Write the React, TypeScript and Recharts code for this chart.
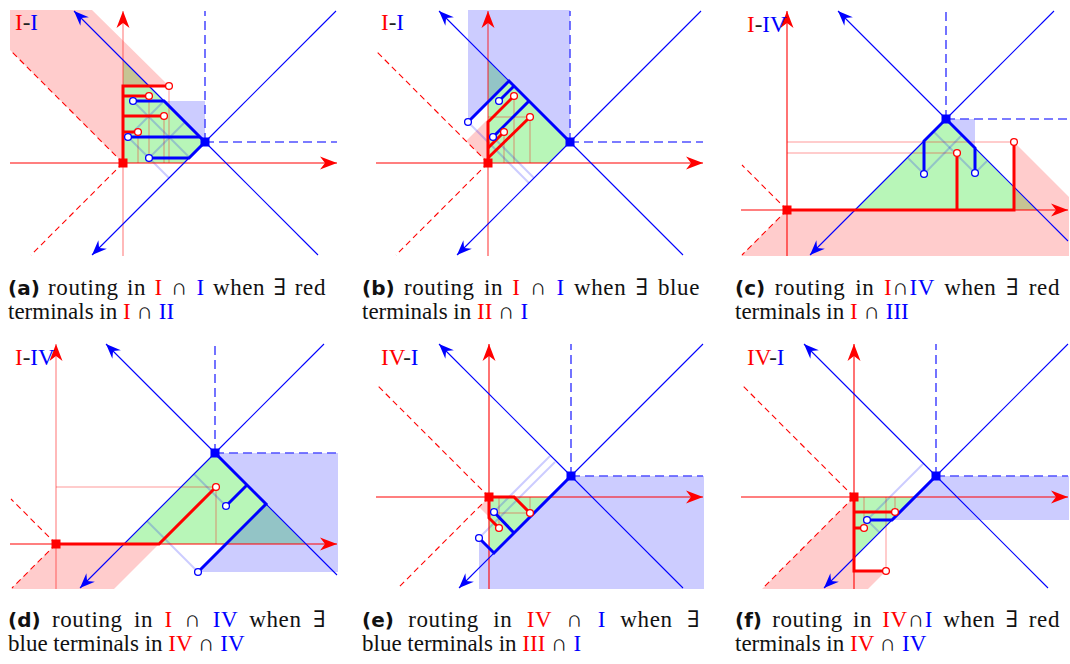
import React from "react";
import { Area, ComposedChart, Line, XAxis, YAxis } from "recharts";

type P = [number, number];

const RED = "#ff0000";
const BLUE = "#0000ff";
const W = 328;
const H = 246;

// (a) I-I, red terminals in I ∩ II
const aSquare: P = [82, 21];
const aGreen: P[] = [[0, 103], [82, 21], [61, 0], [0, 0]];
const aBlueFill: P[] = [[41, 62], [82, 62], [82, 21]];
const aPink: P[] = [[-113, 153], [-31, 153], [46, 77], [0, 77], [0, 0], [-113, 113]];
const aRedTerms: P[] = [[46, 77], [26, 67], [41, 47], [15, 31]];
const aRedRoutes: P[][] = [[[0, 0], [0, 77], [46, 77]], [[0, 67], [26, 67]], [[0, 47], [41, 47]], [[0, 31], [15, 31]]];
const aBlueTerms: P[] = [[10, 62], [5, 26], [26, 5]];
const aBlueRoutes: P[][] = [[[10, 62], [41, 62], [82, 21]], [[5, 26], [77, 26]], [[26, 5], [66, 5], [82, 21]]];
const aFaintRed: P[][] = [[[15, 31], [15, 0]], [[26, 67], [26, 0]], [[41, 47], [41, 0]], [[46, 77], [46, 0]]];
const aFaintBlue: P[][] = [[[5, 26], [46, -15]], [[10, 62], [66, 6]], [[26, 5], [62, 41]], [[5, 26], [41, 62]]];

// (b) I-I, blue terminals in II ∩ I
const bSquare: P = [82, 21];
const bGreen: P[] = [[0, 103], [82, 21], [61, 0], [0, 0]];
const bBlueFill: P[] = [[-20, 153], [82, 153], [82, 21], [21, 82], [-20, 41]];
const bPink: P[] = [[-22, 22], [0, 44], [0, 0]];
const bRedTerms: P[] = [[26, 67], [42, 46], [16, 31]];
const bRedRoutes: P[][] = [[[0, 0], [0, 41], [26, 67]], [[0, 5], [42, 46]], [[0, 15], [16, 31]]];
const bBlueTerms: P[] = [[-20, 41], [11, 62], [5, 26]];
const bBlueRoutes: P[][] = [[[-20, 41], [21, 82], [82, 21]], [[11, 62], [26, 77]], [[5, 26], [41, 62]]];
const bFaintRed: P[][] = [[[16, 31], [16, 0]], [[26, 67], [26, 0]], [[42, 46], [42, 0]], [[0, 46], [42, 46]]];
const bFaintBlue: P[][] = [[[-20, 41], [41, -20]], [[5, 26], [46, -15]]];

// (c) I-IV, red terminals in I ∩ III
const cSquare: P = [159, 91];
const cGreen: P[] = [[68, 0], [159, 91], [250, 0]];
const cBlueFill: P[] = [[159, 91], [188, 91], [188, 62]];
const cPink: P[] = [[0, 0], [227, 0], [227, 68], [282, 13], [282, -46], [-46, -46]];
const cRedTerms: P[] = [[170, 57], [227, 68]];
const cRedRoutes: P[][] = [[[0, 0], [227, 0], [227, 68]], [[170, 0], [170, 57]]];
const cBlueTerms: P[] = [[137, 36], [188, 37]];
const cBlueRoutes: P[][] = [[[137, 36], [137, 69], [159, 91], [188, 62], [188, 37]]];
const cFaintRed: P[][] = [[[0, 68], [227, 68]], [[0, 57], [170, 57]]];
const cFaintBlue: P[][] = [[[137, 36], [175, 75]], [[188, 37], [147, 78]], [[137, 36], [121, 52]], [[188, 37], [200, 49]]];

// (d) I-IV, blue terminals in IV ∩ IV
const dSquare: P = [159, 91];
const dGreen: P[] = [[68, 0], [159, 91], [250, 0]];
const dBlueTop: P[] = [[159, 91], [282, 91], [282, 40], [210, 40]];
const dBlueBottom: P[] = [[210, 40], [282, 40], [282, -28], [142, -28]];
const dPink: P[] = [[0, 0], [103, 0], [58, -45], [-45, -45]];
const dRedTerms: P[] = [[160, 57]];
const dRedRoutes: P[][] = [[[0, 0], [103, 0], [160, 57]]];
const dBlueTerms: P[] = [[170, 38], [142, -28]];
const dBlueRoutes: P[][] = [[[159, 91], [210, 40], [142, -28]], [[191, 59], [170, 38]]];
const dFaintRed: P[][] = [[[0, 57], [160, 57]], [[160, 57], [160, 0]]];
const dFaintBlue: P[][] = [[[170, 38], [138, 70]], [[142, -28], [91, 23]]];

// (e) IV-I, blue terminals in III ∩ I
const eSquare: P = [82, 21];
const eGreen: P[] = [[0, 0], [61, 0], [5, -56], [0, -51]];
const eBlueFill: P[] = [[-10, -41], [5, -56], [82, 21], [215, 21], [215, -92], [-10, -92]];
const ePink: P[] = [[0, 0], [-10, -10], [0, -20]];
const eRedTerms: P[] = [[41, -16], [10, -31]];
const eRedRoutes: P[][] = [[[0, 0], [25, 0], [41, -16]], [[0, 0], [0, -21], [10, -31]]];
const eBlueTerms: P[] = [[5, -15], [-10, -41]];
const eBlueRoutes: P[][] = [[[-10, -41], [5, -56], [82, 21]], [[5, -15], [25, -36]]];
const eFaintRed: P[][] = [[[10, -31], [10, 0]], [[41, -16], [41, 0]], [[0, -16], [41, -16]]];
const eFaintBlue: P[][] = [[[5, -15], [61, 41]], [[-10, -41], [66, 35]]];

// (f) IV-I, red terminals in IV ∩ IV
const fSquare: P = [82, 21];
const fGreen: P[] = [[0, 0], [61, 0], [0, -61]];
const fBlueFill: P[] = [[82, 21], [215, 21], [215, -23], [38, -23]];
const fPink: P[] = [[0, 0], [0, -74], [32, -74], [14, -92], [-92, -92]];
const fRedTerms: P[] = [[41, -15], [10, -31], [32, -74]];
const fRedRoutes: P[][] = [[[0, 0], [0, -74], [32, -74]], [[0, -15], [41, -15]], [[0, -31], [10, -31]]];
const fBlueTerms: P[] = [[13, -23]];
const fBlueRoutes: P[][] = [[[13, -23], [38, -23], [82, 21]]];
const fFaintRed: P[][] = [[[10, -31], [10, 0]], [[32, -74], [32, 0]], [[41, -15], [41, 0]]];
const fFaintBlue: P[][] = [[[13, -23], [70, 34]], [[13, -23], [26, -36]]];

type Seg = [string, string];
const aLabel: Seg[] = [["I", RED], ["-", "#222"], ["I", BLUE]];
const cLabel: Seg[] = [["I", RED], ["-", "#222"], ["IV", BLUE]];
const eLabel: Seg[] = [["IV", RED], ["-", "#222"], ["I", BLUE]];

const captionTags = ["(a)", "(b)", "(c)", "(d)", "(e)", "(f)"];
const captionFirst: Seg[][] = [
  [["routing in ", ""], ["I", RED], [" ∩ ", ""], ["I", BLUE], [" when ∃ red", ""]],
  [["routing in ", ""], ["I", RED], [" ∩ ", ""], ["I", BLUE], [" when ∃ blue", ""]],
  [["routing in ", ""], ["I", RED], ["∩", ""], ["IV", BLUE], [" when ∃ red", ""]],
  [["routing in ", ""], ["I", RED], [" ∩ ", ""], ["IV", BLUE], [" when ∃", ""]],
  [["routing in ", ""], ["IV", RED], [" ∩ ", ""], ["I", BLUE], [" when ∃", ""]],
  [["routing in ", ""], ["IV", RED], ["∩", ""], ["I", BLUE], [" when ∃ red", ""]],
];
const captionSecond: Seg[][] = [
  [["terminals in ", ""], ["I", RED], [" ∩ ", ""], ["II", BLUE]],
  [["terminals in ", ""], ["II", RED], [" ∩ ", ""], ["I", BLUE]],
  [["terminals in ", ""], ["I", RED], [" ∩ ", ""], ["III", BLUE]],
  [["blue terminals in ", ""], ["IV", RED], [" ∩ ", ""], ["IV", BLUE]],
  [["blue terminals in ", ""], ["III", RED], [" ∩ ", ""], ["I", BLUE]],
  [["terminals in ", ""], ["IV", RED], [" ∩ ", ""], ["IV", BLUE]],
];

type Panel = {
  left: number; top: number; ox: number; oy: number; square: P; axisFade: number;
  green: P[][]; blueFill: P[][]; pink: P[][];
  redRoutes: P[][]; blueRoutes: P[][]; redTerms: P[]; blueTerms: P[];
  faintRed: P[][]; faintBlue: P[][];
  label: Seg[]; labelX: number; labelY: number;
};

const PANELS: Panel[] = [
  { left: 10, top: 10, ox: 113, oy: 153, square: aSquare, axisFade: 0.5, green: [aGreen], blueFill: [aBlueFill], pink: [aPink], redRoutes: aRedRoutes, blueRoutes: aBlueRoutes, redTerms: aRedTerms, blueTerms: aBlueTerms, faintRed: aFaintRed, faintBlue: aFaintBlue, label: aLabel, labelX: 15, labelY: 30 },
  { left: 376, top: 10, ox: 112, oy: 153, square: bSquare, axisFade: 0.75, green: [bGreen], blueFill: [bBlueFill], pink: [bPink], redRoutes: bRedRoutes, blueRoutes: bBlueRoutes, redTerms: bRedTerms, blueTerms: bBlueTerms, faintRed: bFaintRed, faintBlue: bFaintBlue, label: aLabel, labelX: 381, labelY: 30 },
  { left: 741, top: 10, ox: 46, oy: 200, square: cSquare, axisFade: 1, green: [cGreen], blueFill: [cBlueFill], pink: [cPink], redRoutes: cRedRoutes, blueRoutes: cBlueRoutes, redTerms: cRedTerms, blueTerms: cBlueTerms, faintRed: cFaintRed, faintBlue: cFaintBlue, label: cLabel, labelX: 747, labelY: 32 },
  { left: 10, top: 343, ox: 46, oy: 201, square: dSquare, axisFade: 0.5, green: [dGreen], blueFill: [dBlueTop, dBlueBottom], pink: [dPink], redRoutes: dRedRoutes, blueRoutes: dBlueRoutes, redTerms: dRedTerms, blueTerms: dBlueTerms, faintRed: dFaintRed, faintBlue: dFaintBlue, label: cLabel, labelX: 15, labelY: 365 },
  { left: 376, top: 343, ox: 113, oy: 154, square: eSquare, axisFade: 1, green: [eGreen], blueFill: [eBlueFill], pink: [ePink], redRoutes: eRedRoutes, blueRoutes: eBlueRoutes, redTerms: eRedTerms, blueTerms: eBlueTerms, faintRed: eFaintRed, faintBlue: eFaintBlue, label: eLabel, labelX: 381, labelY: 365 },
  { left: 741, top: 343, ox: 113, oy: 154, square: fSquare, axisFade: 1, green: [fGreen], blueFill: [fBlueFill], pink: [fPink], redRoutes: fRedRoutes, blueRoutes: fBlueRoutes, redTerms: fRedTerms, blueTerms: fBlueTerms, faintRed: fFaintRed, faintBlue: fFaintBlue, label: eLabel, labelX: 747, labelY: 365 },
];

const CAPTION_COLS = [
  { left: 8, width: 318 },
  { left: 362, width: 338 },
  { left: 735, width: 325 },
];
const CAPTION_ROWS = [295, 627];

// polygon -> rows of [low, high] so Area can fill it as a range area
function toRange(poly: P[]) {
  const xs = Array.from(new Set(poly.map((p) => p[0]))).sort((a, b) => a - b);
  const span = (x: number): [number, number] => {
    const ys: number[] = [];
    for (let i = 0; i < poly.length; i++) {
      const [x1, y1] = poly[i];
      const [x2, y2] = poly[(i + 1) % poly.length];
      if (x1 === x2) continue;
      if (x >= Math.min(x1, x2) && x <= Math.max(x1, x2)) ys.push(y1 + ((y2 - y1) * (x - x1)) / (x2 - x1));
    }
    return [Math.min(...ys), Math.max(...ys)];
  };
  const rows: { x: number; r: [number, number] }[] = [];
  const e = 1e-6;
  xs.forEach((x, i) => {
    if (i > 0) rows.push({ x, r: span(x - e) });
    if (i < xs.length - 1) rows.push({ x, r: span(x + e) });
  });
  return rows;
}

const toRows = (pts: P[]) => pts.map(([x, y]) => ({ x, y }));

// stealth arrow head on the last point, nothing elsewhere
function endDot(pts: P[], color: string, arrow: boolean) {
  return (props: any) => {
    const { cx, cy, index } = props;
    if (!arrow || index !== pts.length - 1 || cx == null) return <g key={`n${index}`} />;
    const [x0, y0] = pts[pts.length - 2];
    const [x1, y1] = pts[pts.length - 1];
    let dx = x1 - x0;
    let dy = -(y1 - y0);
    const len = Math.hypot(dx, dy);
    dx /= len;
    dy /= len;
    const L = color === RED ? 17 : 15;
    const hw = color === RED ? 6.5 : 6;
    const notch = 5;
    const bx = cx - dx * L, by = cy - dy * L;
    const nx = cx - dx * (L - notch), ny = cy - dy * (L - notch);
    const head = [
      [cx, cy],
      [bx - dy * hw, by + dx * hw],
      [nx, ny],
      [bx + dy * hw, by - dx * hw],
    ];
    return <polygon key={`a${index}`} points={head.map((q) => q.join(",")).join(" ")} fill={color} />;
  };
}

function circleDot(color: string) {
  return (props: any) => (
    <circle key={`c${props.index}`} cx={props.cx} cy={props.cy} r={3.4} fill="#fff" stroke={color} strokeWidth={1.3} />
  );
}

function squareDot(props: any) {
  const c = props.index === 0 ? RED : BLUE;
  return <rect key={`s${props.index}`} x={props.cx - 4.5} y={props.cy - 4.5} width={9} height={9} fill={c} />;
}

function fill(poly: P[], key: string, color: string, opacity: number) {
  return (
    <Area key={key} data={toRange(poly)} dataKey="r" type="linear" stroke="none" fill={color} fillOpacity={opacity} dot={false} activeDot={false} isAnimationActive={false} />
  );
}

function seg(pts: P[], key: string, color: string, width: number, opts: { dash?: string; opacity?: number; arrow?: boolean } = {}) {
  return (
    <Line
      key={key}
      data={toRows(pts)}
      dataKey="y"
      type="linear"
      stroke={color}
      strokeWidth={width}
      strokeOpacity={opts.opacity ?? 1}
      strokeDasharray={opts.dash}
      dot={endDot(pts, color, !!opts.arrow)}
      activeDot={false}
      isAnimationActive={false}
    />
  );
}

function Diagram({ p }: { p: Panel }) {
  const xMin = -p.ox, xMax = W - p.ox, yMin = p.oy - H, yMax = p.oy;
  const toEdge = (from: P, d: P): P[] => {
    let t = Infinity;
    if (d[0] > 0) t = Math.min(t, (xMax - 1 - from[0]) / d[0]);
    if (d[0] < 0) t = Math.min(t, (xMin + 1 - from[0]) / d[0]);
    if (d[1] > 0) t = Math.min(t, (yMax - 1 - from[1]) / d[1]);
    if (d[1] < 0) t = Math.min(t, (yMin + 1 - from[1]) / d[1]);
    return [[from[0], from[1]], [from[0] + t * d[0], from[1] + t * d[1]]];
  };
  const O: P = [0, 0];
  const B = p.square;
  return (
    <div style={{ position: "absolute", left: p.left, top: p.top }}>
      <ComposedChart width={W} height={H} margin={{ top: 0, right: 0, bottom: 0, left: 0 }}>
        <XAxis type="number" dataKey="x" domain={[xMin, xMax]} allowDataOverflow hide />
        <YAxis type="number" domain={[yMin, yMax]} allowDataOverflow hide />
        {p.green.map((g, i) => fill(g, `g${i}`, "#00dd00", 0.28))}
        {p.blueFill.map((g, i) => fill(g, `b${i}`, BLUE, 0.2))}
        {p.pink.map((g, i) => fill(g, `p${i}`, RED, 0.2))}
        {p.faintRed.map((s, i) => seg(s, `fr${i}`, RED, 2, { opacity: 0.2 }))}
        {p.faintBlue.map((s, i) => seg(s, `fb${i}`, BLUE, 2, { opacity: 0.2 }))}
        {seg([[xMin, 0], [xMax - 1, 0]], "rx", RED, 1.1, { arrow: true })}
        {seg([[0, yMin], [0, yMax - 1]], "ry", RED, 1.1, { arrow: true, opacity: p.axisFade })}
        {seg(toEdge(O, [-1, 1]), "rnw", RED, 1.1, { dash: "6 4" })}
        {seg(toEdge(O, [-1, -1]), "rsw", RED, 1.1, { dash: "6 4" })}
        {seg(toEdge(B, [1, 1]), "bne", BLUE, 1.1)}
        {seg(toEdge(B, [1, -1]), "bse", BLUE, 1.1)}
        {seg(toEdge(B, [-1, 1]), "bnw", BLUE, 1.1, { arrow: true })}
        {seg(toEdge(B, [-1, -1]), "bsw", BLUE, 1.1, { arrow: true })}
        {seg(toEdge(B, [0, 1]), "bn", "#5050ff", 1.6, { dash: "9 5" })}
        {seg(toEdge(B, [1, 0]), "be", "#5050ff", 1.6, { dash: "9 5" })}
        {p.redRoutes.map((s, i) => seg(s, `rr${i}`, RED, 3))}
        {p.blueRoutes.map((s, i) => seg(s, `br${i}`, BLUE, 3))}
        <Line data={toRows(p.redTerms)} dataKey="y" stroke="none" dot={circleDot(RED)} activeDot={false} isAnimationActive={false} />
        <Line data={toRows(p.blueTerms)} dataKey="y" stroke="none" dot={circleDot(BLUE)} activeDot={false} isAnimationActive={false} />
        <Line data={toRows([O, B])} dataKey="y" stroke="none" dot={squareDot} activeDot={false} isAnimationActive={false} />
      </ComposedChart>
    </div>
  );
}

const textFont = "'Liberation Serif', 'DejaVu Serif', serif";

function Segs({ segs }: { segs: Seg[] }) {
  return (
    <>
      {segs.map(([t, c], i) => (
        <span key={i} style={c ? { color: c } : undefined}>
          {t}
        </span>
      ))}
    </>
  );
}

export default function App() {
  return (
    <div style={{ position: "absolute", left: 0, top: 0, width: 1070, height: 664, background: "#fff", overflow: "hidden", fontFamily: textFont, color: "#111" }}>
      {PANELS.map((p, i) => (
        <Diagram key={i} p={p} />
      ))}
      {PANELS.map((p, i) => (
        <div key={`l${i}`} style={{ position: "absolute", left: p.labelX, top: p.labelY - 19.3, fontSize: 23, lineHeight: "23px", whiteSpace: "nowrap" }}>
          <Segs segs={p.label} />
        </div>
      ))}
      {captionTags.map((tag, i) => {
        const col = CAPTION_COLS[i % 3];
        const top = CAPTION_ROWS[Math.floor(i / 3)] - 19.3;
        return (
          <div key={`c${i}`} style={{ position: "absolute", left: col.left, top, width: col.width, fontSize: 23, lineHeight: "23px" }}>
            <div style={{ textAlign: "justify", textAlignLast: "justify", whiteSpace: "normal", letterSpacing: 0.6 }}>
              <span style={{ fontFamily: "'DejaVu Sans', sans-serif", fontWeight: 700, fontSize: 20, letterSpacing: 0 }}>{tag}</span>{" "}
              <Segs segs={captionFirst[i]} />
            </div>
            <div style={{ whiteSpace: "nowrap" }}>
              <Segs segs={captionSecond[i]} />
            </div>
          </div>
        );
      })}
    </div>
  );
}
